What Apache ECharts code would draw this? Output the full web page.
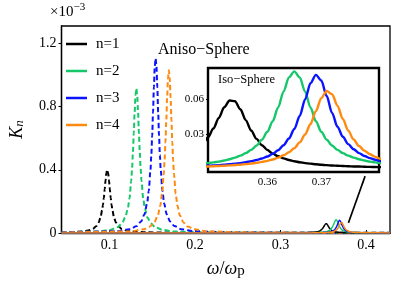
<!DOCTYPE html>
<html>
<head>
<meta charset="utf-8">
<script src="https://cdn.jsdelivr.net/npm/echarts@6/dist/echarts.min.js"></script>
<style>html,body{margin:0;padding:0;background:#fff}#c{width:415px;height:284px}</style>
</head>
<body>
<div id="c"></div>
<script>
// ---- data ----
const names = ['n=1', 'n=2', 'n=3', 'n=4'];
const colors = ['#000000', '#16c76a', '#0a14ff', '#ff8a10'];
const xTicks = [0.1, 0.2, 0.3, 0.4];
const yTicks = [0, 0.4, 0.8, 1.2];
const insetXTicks = [0.36, 0.37];
const insetYTicks = [0.03, 0.06];

// Aniso-Sphere (dashed) curves: [omega/omega_p, K_n (x1e-3)]
const aniso1 = [[0.044,0.002],[0.0525,0.004],[0.0675,0.009],[0.0755,0.016],[0.0805,0.026],[0.0845,0.043],[0.0875,0.067],[0.0895,0.096],[0.0915,0.144],[0.0925,0.179],[0.0935,0.223],[0.0945,0.277],[0.0955,0.334],[0.0965,0.381],[0.0975,0.400],[0.0985,0.381],[0.0995,0.334],[0.1005,0.277],[0.1015,0.223],[0.1025,0.179],[0.1035,0.144],[0.1055,0.096],[0.1075,0.067],[0.1105,0.043],[0.1145,0.026],[0.1195,0.016],[0.1275,0.009],[0.1425,0.004],[0.2,0.002],[0.3,0.001],[0.428,0.0005]];
const aniso2 = [[0.044,0.003],[0.0865,0.009],[0.1015,0.020],[0.1095,0.037],[0.1145,0.060],[0.1185,0.098],[0.1215,0.154],[0.1235,0.220],[0.1255,0.329],[0.1265,0.409],[0.1275,0.511],[0.1285,0.633],[0.1295,0.764],[0.1305,0.872],[0.1315,0.915],[0.1325,0.872],[0.1335,0.764],[0.1345,0.633],[0.1355,0.511],[0.1365,0.409],[0.1375,0.329],[0.1395,0.220],[0.1415,0.154],[0.1445,0.098],[0.1485,0.060],[0.1535,0.037],[0.1615,0.020],[0.1765,0.009],[0.22,0.004],[0.3,0.002],[0.428,0.001]];
const aniso3 = [[0.044,0.003],[0.109,0.011],[0.124,0.024],[0.132,0.044],[0.137,0.072],[0.141,0.118],[0.144,0.186],[0.146,0.266],[0.148,0.398],[0.149,0.494],[0.150,0.617],[0.151,0.765],[0.152,0.923],[0.153,1.053],[0.154,1.105],[0.155,1.053],[0.156,0.923],[0.157,0.765],[0.158,0.617],[0.159,0.494],[0.160,0.398],[0.162,0.266],[0.164,0.186],[0.167,0.118],[0.171,0.072],[0.176,0.044],[0.184,0.024],[0.199,0.011],[0.24,0.004],[0.32,0.002],[0.428,0.001]];
const aniso4 = [[0.044,0.002],[0.1245,0.010],[0.1395,0.023],[0.1475,0.041],[0.1525,0.067],[0.1565,0.110],[0.1595,0.173],[0.1615,0.248],[0.1635,0.371],[0.1645,0.461],[0.1655,0.575],[0.1665,0.713],[0.1675,0.860],[0.1685,0.981],[0.1695,1.030],[0.1705,0.981],[0.1715,0.860],[0.1725,0.713],[0.1735,0.575],[0.1745,0.461],[0.1755,0.371],[0.1775,0.248],[0.1795,0.173],[0.1825,0.110],[0.1865,0.067],[0.1915,0.041],[0.1995,0.023],[0.2145,0.010],[0.26,0.004],[0.34,0.002],[0.428,0.001]];

// Iso-Sphere (solid) curves on a shared x grid
const isoX = [0.044,0.25,0.32,0.335,0.342,0.345,0.348,0.349,0.350,0.351,0.352,0.353,0.354,0.355,0.356,0.357,0.358,0.359,0.360,0.361,0.362,0.363,0.364,0.365,0.366,0.367,0.368,0.369,0.370,0.371,0.372,0.373,0.374,0.375,0.376,0.377,0.378,0.379,0.380,0.381,0.385,0.39,0.40,0.428];
const iso1 = [0.0000,0.0001,0.0008,0.0027,0.0065,0.0110,0.0210,0.0269,0.0345,0.0437,0.0529,0.0588,0.0581,0.0512,0.0418,0.0328,0.0256,0.0201,0.0160,0.0129,0.0106,0.0088,0.0074,0.0063,0.0054,0.0047,0.0042,0.0037,0.0033,0.0029,0.0026,0.0024,0.0022,0.0020,0.0018,0.0017,0.0015,0.0014,0.0013,0.0012,0.0009,0.0007,0.0004,0.0002];
const iso2 = [0.0000,0.0001,0.0006,0.0014,0.0023,0.0031,0.0042,0.0047,0.0053,0.0060,0.0069,0.0080,0.0094,0.0111,0.0133,0.0161,0.0199,0.0249,0.0317,0.0409,0.0527,0.0664,0.0787,0.0839,0.0787,0.0664,0.0527,0.0409,0.0317,0.0249,0.0199,0.0161,0.0133,0.0111,0.0094,0.0080,0.0069,0.0060,0.0053,0.0047,0.0031,0.0020,0.0010,0.0003];
const iso3 = [0.0000,0.0001,0.0004,0.0008,0.0013,0.0017,0.0022,0.0024,0.0026,0.0029,0.0033,0.0037,0.0041,0.0047,0.0054,0.0063,0.0073,0.0087,0.0104,0.0127,0.0158,0.0201,0.0259,0.0341,0.0454,0.0596,0.0737,0.0809,0.0760,0.0626,0.0480,0.0361,0.0274,0.0211,0.0166,0.0133,0.0108,0.0090,0.0076,0.0064,0.0037,0.0022,0.0010,0.0003];
const iso4 = [0.0000,0.0001,0.0003,0.0007,0.0011,0.0013,0.0017,0.0018,0.0020,0.0022,0.0024,0.0027,0.0030,0.0033,0.0038,0.0043,0.0049,0.0057,0.0066,0.0078,0.0094,0.0114,0.0140,0.0176,0.0226,0.0294,0.0384,0.0496,0.0608,0.0670,0.0642,0.0543,0.0427,0.0327,0.0250,0.0194,0.0154,0.0123,0.0101,0.0084,0.0045,0.0025,0.0011,0.0003];

const arrowFrom = [0.3794, 0.064];
const arrowTo = [0.3989, 0.36];

// ---- build ----
const F = '"Liberation Serif", "Times New Roman", serif';
const anisoSets = [aniso1, aniso2, aniso3, aniso4];
const isoSets = [iso1, iso2, iso3, iso4];
const fmt = v => String(+(+v).toFixed(3));

const series = [];
anisoSets.forEach((d, i) => {
  series.push({
    name: names[i], type: 'line', xAxisIndex: 0, yAxisIndex: 0,
    data: d, showSymbol: false, smooth: 0.3, smoothMonotone: 'x',
    itemStyle: { color: colors[i] },
    lineStyle: { color: colors[i], width: 2, type: [5, 3] },
    z: 3
  });
});
isoSets.forEach((d, i) => {
  const data = isoX.map((x, k) => [x, d[k]]);
  const s = {
    name: names[i], type: 'line', xAxisIndex: 0, yAxisIndex: 0,
    data: data, showSymbol: false, smooth: 0.3, smoothMonotone: 'x',
    itemStyle: { color: colors[i] },
    lineStyle: { color: colors[i], width: 1.5, type: 'solid' },
    z: 3
  };
  if (i === 3) {
    s.markLine = {
      silent: true, animation: false,
      symbol: ['none', 'arrow'], symbolSize: [1, 10],
      lineStyle: { color: '#000', width: 1.6, type: 'solid' },
      label: { show: false },
      data: [[{ coord: arrowFrom }, { coord: arrowTo }]]
    };
  }
  series.push(s);
  series.push({
    name: names[i], type: 'line', xAxisIndex: 1, yAxisIndex: 1,
    data: data, showSymbol: false, smooth: 0.3, smoothMonotone: 'x',
    itemStyle: { color: colors[i] },
    lineStyle: { color: colors[i], width: 2.4, type: 'solid' },
    z: 10
  });
});

const chart = echarts.init(document.getElementById('c'), null, { renderer: 'canvas' });
chart.setOption({
  animation: false,
  backgroundColor: '#fff',
  textStyle: { fontFamily: F },
  grid: [
    { left: 49, top: 26, right: 25, bottom: 47, show: true, borderColor: '#000', borderWidth: 1.3, backgroundColor: 'transparent' },
    { left: 208, top: 68, right: 36, bottom: 112, show: true, borderColor: '#000', borderWidth: 2.4, backgroundColor: '#fff', z: 5 }
  ],
  legend: {
    data: names, orient: 'vertical', left: 61, top: 30,
    icon: 'rect', itemWidth: 21, itemHeight: 2.5, itemGap: 9,
    itemStyle: { borderWidth: 0 },
    textStyle: { fontFamily: F, fontSize: 15, color: '#000', lineHeight: 18, padding: [0, 0, 0, 4] },
    selectedMode: false
  },
  xAxis: [
    {
      gridIndex: 0, type: 'value', min: 0.044, max: 0.428,
      axisLine: { show: true, lineStyle: { color: '#000', width: 1.3 } },
      axisTick: { show: true, inside: true, length: 3, customValues: xTicks, lineStyle: { color: '#000' } },
      axisLabel: { customValues: xTicks, formatter: fmt, margin: 5, fontFamily: F, fontSize: 14, color: '#000' },
      splitLine: { show: false },
      name: '{w|ω}{s|/}{w|ω}{p|p}', nameLocation: 'middle', nameGap: 27,
      nameTextStyle: { color: '#000', rich: {
        w: { fontFamily: F, fontSize: 18, fontStyle: 'italic', color: '#000' },
        s: { fontFamily: F, fontSize: 18, color: '#000' },
        p: { fontFamily: F, fontSize: 15, color: '#000', padding: [4, 0, 0, 0] } } }
    },
    {
      gridIndex: 1, type: 'value', min: 0.349, max: 0.3807,
      axisLine: { show: false },
      axisTick: { show: true, inside: false, length: 2, customValues: insetXTicks, lineStyle: { color: '#000' } },
      axisLabel: { customValues: insetXTicks, formatter: fmt, margin: 5, fontFamily: F, fontSize: 11, color: '#000' },
      splitLine: { show: false }
    }
  ],
  yAxis: [
    {
      gridIndex: 0, type: 'value', min: 0, max: 1.31,
      axisLine: { show: true, lineStyle: { color: '#000', width: 1.3 } },
      axisTick: { show: true, inside: false, length: 3, customValues: yTicks, lineStyle: { color: '#000' } },
      axisLabel: { customValues: yTicks, formatter: fmt, margin: 5, fontFamily: F, fontSize: 14, color: '#000' },
      splitLine: { show: false },
      name: '{k|K}{n|n}', nameLocation: 'middle', nameGap: 35, nameRotate: 90,
      nameTextStyle: { color: '#000', rich: {
        k: { fontFamily: F, fontSize: 18, fontStyle: 'italic', color: '#000' },
        n: { fontFamily: F, fontSize: 13, fontStyle: 'italic', color: '#000', padding: [6, 0, 0, 0] } } }
    },
    {
      gridIndex: 1, type: 'value', min: -0.003, max: 0.0868,
      axisLine: { show: false },
      axisTick: { show: true, inside: false, length: 2, customValues: insetYTicks, lineStyle: { color: '#000' } },
      axisLabel: { customValues: insetYTicks, formatter: fmt, margin: 4, fontFamily: F, fontSize: 11, color: '#000' },
      splitLine: { show: false }
    }
  ],
  graphic: [
    { type: 'text', left: 50, top: 2, z: 100, style: { text: '{a|×10}{b|−3}', rich: {
        a: { fontFamily: F, fontSize: 15, fill: '#000', padding: [4, 0, 0, 0] },
        b: { fontFamily: F, fontSize: 11, fill: '#000', padding: [0, 0, 6, 0] } } } },
    { type: 'text', left: 158, top: 42, z: 100, style: { text: 'Aniso−Sphere', font: '16px "Liberation Serif"', fill: '#000' } },
    { type: 'text', left: 218, top: 73, z: 100, style: { text: 'Iso−Sphere', font: '12.5px "Liberation Serif"', fill: '#000' } }
  ],
  series: series
});
</script>
</body>
</html>
